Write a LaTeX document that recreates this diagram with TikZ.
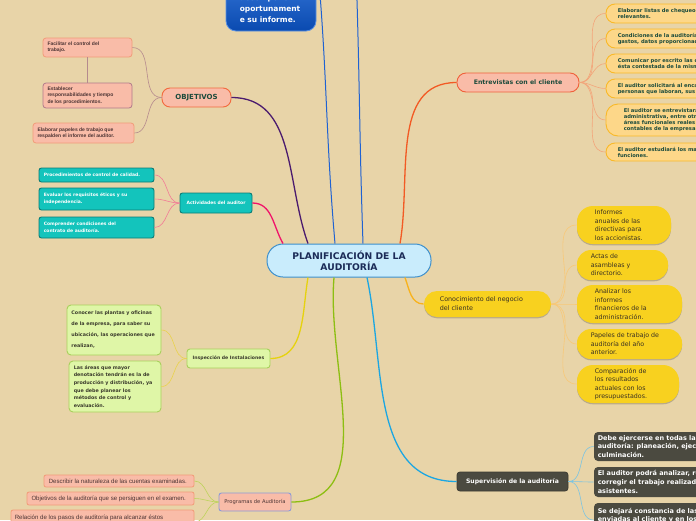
\documentclass[tikz,border=0pt]{standalone}
\usepackage{fontspec}
\setmainfont{DejaVu Sans}
\newfontfamily\arialf{Liberation Sans}
\usetikzlibrary{shadows}
\definecolor{bgc}{HTML}{E8D4A8}
\definecolor{ctrfill}{HTML}{C9ECFC}
\definecolor{ctrdraw}{HTML}{3D8FCC}
\definecolor{ctrtext}{HTML}{1B2B57}
\definecolor{salmon}{HTML}{F9BCA8}
\definecolor{objdraw}{HTML}{F26A3E}
\definecolor{darkgreen}{HTML}{1C4B3C}
\definecolor{salmondraw}{HTML}{F29B78}
\definecolor{mauve}{HTML}{B07A8A}
\definecolor{objline}{HTML}{B58A8E}
\definecolor{teal1}{HTML}{13C4BC}
\definecolor{teal2}{HTML}{0C7C75}
\definecolor{pinkline}{HTML}{F27A96}
\definecolor{limefill}{HTML}{DFF6A7}
\definecolor{limedraw}{HTML}{A8D05C}
\definecolor{yelline}{HTML}{E8D24C}
\definecolor{progdraw}{HTML}{8C9AD8}
\definecolor{greenline}{HTML}{BED35C}
\definecolor{entdraw}{HTML}{F0603A}
\definecolor{entkfill}{HTML}{FDD789}
\definecolor{entkdraw}{HTML}{F9B928}
\definecolor{entline}{HTML}{F3A57A}
\definecolor{gold}{HTML}{F8D11F}
\definecolor{goldline}{HTML}{F8C878}
\definecolor{supfill}{HTML}{4B4A40}
\definecolor{supline}{HTML}{7CC4E2}
\definecolor{purpleline}{HTML}{4B1B6E}
\definecolor{magline}{HTML}{F0146A}
\definecolor{blueline}{HTML}{1F62D2}
\definecolor{redline}{HTML}{F25A24}
\definecolor{amberline}{HTML}{F8B21C}
\definecolor{cyanline}{HTML}{1CA6E2}
\definecolor{yellowline}{HTML}{E6D20E}
\definecolor{limeline}{HTML}{8DBE12}
\definecolor{bluetop}{HTML}{2C6DD0}
\definecolor{bluebot}{HTML}{0A4AB0}
\definecolor{bluedraw}{HTML}{5C92E2}
\definecolor{inktext}{HTML}{3B3B2C}
\definecolor{browntext}{HTML}{4C3434}
\definecolor{goldtext}{HTML}{3A3122}
\tikzset{
  boxbase/.style={inner sep=0pt, line width=0.8pt},
  txt/.style={inner sep=0pt, align=left, anchor=west},
  mainline/.style={line width=1.3pt},
  subline/.style={line width=0.6pt},
  ctrbox/.style={boxbase, draw=ctrdraw, fill=ctrfill, line width=1pt, rounded corners=16pt,
    minimum width=164pt, minimum height=33pt, align=center, text=ctrtext,
    font=\bfseries\fontsize{9.2}{11}\selectfont},
  bluebox/.style={boxbase, draw=bluedraw, top color=bluetop, bottom color=bluebot, rounded corners=10pt},
  objbox/.style={boxbase, draw=objdraw, fill=salmon, line width=0.9pt, rounded corners=8pt,
    minimum width=69pt, minimum height=19pt, text=darkgreen, font=\bfseries\fontsize{7}{8}\selectfont},
  objkid/.style={boxbase, fill=salmon, rounded corners=3pt},
  objtxt/.style={txt, text=browntext, font=\arialf\bfseries\fontsize{5}{6.3}\selectfont},
  actbox/.style={boxbase, draw=teal2, fill=teal1, line width=0.9pt, rounded corners=2.5pt,
    minimum width=72pt, minimum height=20pt, text=white, font=\bfseries\fontsize{4.5}{5.5}\selectfont},
  actkid/.style={boxbase, draw=teal2, fill=teal1, line width=0.9pt, rounded corners=2.5pt, minimum width=115pt},
  acttxt/.style={txt, text=white, font=\bfseries\fontsize{4.5}{6.7}\selectfont},
  insbox/.style={boxbase, draw=limedraw, fill=limefill, line width=0.9pt, rounded corners=3pt,
    minimum width=83pt, minimum height=19pt, text=inktext, font=\bfseries\fontsize{4.6}{5.5}\selectfont},
  inskid/.style={boxbase, draw=limedraw, fill=limefill, line width=0.9pt, rounded corners=4pt},
  instxt/.style={txt, text=inktext, font=\bfseries\fontsize{4.8}{6}\selectfont},
  progbox/.style={boxbase, draw=progdraw, fill=salmon, line width=0.9pt, rounded corners=2.5pt,
    minimum width=72pt, minimum height=18pt, text=browntext, font=\fontsize{5.2}{6}\selectfont},
  progkid/.style={boxbase, draw=salmondraw, fill=salmon, rounded corners=2pt},
  progtxt/.style={txt, text=browntext, font=\arialf\fontsize{6.1}{8}\selectfont},
  entbox/.style={boxbase, draw=entdraw, fill=salmon, line width=0.9pt, rounded corners=9pt,
    minimum width=122pt, minimum height=19pt, text=darkgreen, font=\bfseries\fontsize{6.2}{7}\selectfont},
  entkid/.style={boxbase, draw=entkdraw, fill=entkfill, line width=0.9pt, rounded corners=9pt, minimum width=200pt},
  enttxt/.style={txt, text=darkgreen, font=\bfseries\fontsize{5.2}{6}\selectfont},
  conshadow/.style={drop shadow={shadow xshift=0pt, shadow yshift=-1.3pt, opacity=0.3, fill=black!70}},
  conbox/.style={boxbase, fill=gold, conshadow, rounded corners=13pt, minimum width=127pt, minimum height=26pt},
  conkid/.style={boxbase, fill=gold, conshadow, rounded corners=14pt},
  contxt/.style={txt, text=goldtext, font=\fontsize{6.4}{9}\selectfont},
  conktxt/.style={txt, text=goldtext, font=\fontsize{6.3}{8.5}\selectfont},
  supbox/.style={boxbase, draw=supfill!80!black, fill=supfill, rounded corners=3pt,
    minimum width=111pt, minimum height=19pt, text=white, font=\bfseries\fontsize{6.1}{7}\selectfont},
  supkid/.style={boxbase, fill=supfill, rounded corners=4pt, minimum width=166pt},
  suptxt/.style={txt, text=white, font=\bfseries\fontsize{6.5}{8.6}\selectfont},
}
\begin{document}
\begin{tikzpicture}[x=1pt,y=-1pt]
\fill[bgc] (0,0) rectangle (696,520);
\useasboundingbox (0,0) rectangle (696,520);

% central node
\node[ctrbox] (c) at (349,260.5) {PLANIFICACIÓN DE LA\\AUDITORÍA};

% top blue node
\node[bluebox, minimum width=90pt, minimum height=44pt] (top) at (271,9) {};
\node[txt, text=white, font=\bfseries\fontsize{7.5}{11}\selectfont] (topt) at ([xshift=14pt]top.west) {desempeñe\\oportunament\\e su informe.};
\coordinate (up1) at (318,-30);
\coordinate (up2) at (356,-30);

% OBJETIVOS
\node[objbox] (obj) at (196.5,97.5) {OBJETIVOS};
\node[objkid, draw=salmondraw, minimum width=89pt, minimum height=19pt] (o1) at (87.5,47.5) {};
\node[objtxt] (o1t) at ([xshift=4.7pt]o1.west) {Facilitar el control del\\trabajo.};
\node[objkid, draw=mauve, minimum width=89pt, minimum height=25pt] (o2) at (87.5,95.5) {};
\node[objtxt] (o2t) at ([xshift=4.7pt]o2.west) {Establecer\\responsabilidades y tiempo\\de los procedimientos.};
\node[objkid, draw=salmondraw, minimum width=101pt, minimum height=20pt] (o3) at (83.5,133) {};
\node[objtxt] (o3t) at ([xshift=4.7pt]o3.west) {Elaborar papeles de trabajo que\\respalden el informe del auditor.};

% Actividades
\node[actbox] (act) at (216,203) {Actividades del auditor};
\node[actkid, minimum height=14pt] (a1) at (96.5,175) {};
\node[acttxt] (a1t) at ([xshift=5pt]a1.west) {Procedimientos de control de calidad.};
\node[actkid, minimum height=22pt] (a2) at (96.5,199) {};
\node[acttxt] (a2t) at ([xshift=5pt]a2.west) {Evaluar los requisitos éticos y su\\independencia.};
\node[actkid, minimum height=21pt] (a3) at (96.5,227.5) {};
\node[acttxt] (a3t) at ([xshift=5pt]a3.west) {Comprender condiciones del\\contrato de auditoría.};

% Inspeccion
\node[insbox] (ins) at (228.5,358.5) {Inspección de Instalaciones};
\node[inskid, minimum width=94pt, minimum height=50pt] (i1) at (114,330) {};
\node[instxt, font=\bfseries\fontsize{4.8}{11}\selectfont] (i1t) at ([xshift=4.7pt]i1.west) {Conocer las plantas y oficinas\\de la empresa, para saber su\\ubicación, las operaciones que\\realizan,};
\node[inskid, minimum width=92pt, minimum height=51pt] (i2) at (115,386.5) {};
\node[instxt, font=\bfseries\fontsize{4.8}{7.6}\selectfont] (i2t) at ([xshift=5pt]i2.west) {Las áreas que mayor\\denotación tendrán es la de\\producción y distribución, ya\\que debe planear los\\métodos de control y\\evaluación.};

% Programas
\node[progbox] (prog) at (255,502) {Programas de Auditoría};
\node[progkid, minimum width=150pt, minimum height=12pt] (p1) at (119,481) {};
\node[progtxt] (p1t) at ([xshift=5pt]p1.west) {Describir la naturaleza de las cuentas examinadas.};
\node[progkid, minimum width=167pt, minimum height=13pt] (p2) at (110.5,498.5) {};
\node[progtxt] (p2t) at ([xshift=4.7pt]p2.west) {Objetivos de la auditoría que se persiguen en el examen.};
\node[progkid, minimum width=183pt, minimum height=24pt] (p3) at (102.5,522) {};
\node[progtxt] (p3t) at ([xshift=4pt]p3.west) {Relación de los pasos de auditoría para alcanzar éstos\\objetivos.};

% Entrevistas
\node[entbox] (ent) at (518,82.5) {Entrevistas con el cliente};
\node[entkid, minimum height=19pt] (e1) at (706,13.5) {};
\node[enttxt] (e1t) at ([xshift=12pt]e1.west) {Elaborar listas de chequeo de los aspectos\\relevantes.};
\node[entkid, minimum height=19pt] (e2) at (706,38.5) {};
\node[enttxt] (e2t) at ([xshift=12pt]e2.west) {Condiciones de la auditoría: honorarios,\\gastos, datos proporcionados.};
\node[entkid, minimum height=19pt] (e3) at (706,63.5) {};
\node[enttxt] (e3t) at ([xshift=12pt]e3.west) {Comunicar por escrito las condiciones y que\\ésta contestada de la misma forma.};
\node[entkid, minimum height=19pt] (e4) at (706,88.5) {};
\node[enttxt] (e4t) at ([xshift=12pt]e4.west) {El auditor solicitará al encargado una lista de\\personas que laboran, sus puestos.};
\node[entkid, minimum height=32pt, rounded corners=12pt] (e5) at (706,120) {};
\node[enttxt] (e5t) at ([xshift=18pt]e5.west) {El auditor se entrevistará con la dirección\\administrativa, entre otros, para conocer las\\áreas funcionales reales y los registros\\contables de la empresa.};
\node[entkid, minimum height=18pt] (e6) at (706,152) {};
\node[enttxt] (e6t) at ([xshift=12pt]e6.west) {El auditor estudiará los manuales de\\funciones.};

% Conocimiento
\node[conbox] (con) at (487.5,304) {};
\node[contxt] (cont) at ([xshift=16pt]con.west) {Conocimiento del negocio\\del cliente};
\node[conkid, minimum width=94pt, minimum height=38pt, rounded corners=16pt] (k1) at (624,225) {};
\node[conktxt] (k1t) at ([xshift=18pt]k1.west) {Informes\\anuales de las\\directivas para\\los accionistas.};
\node[conkid, minimum width=91pt, minimum height=30pt] (k2) at (622.5,265) {};
\node[conktxt] (k2t) at ([xshift=14pt]k2.west) {Actas de\\asambleas y\\directorio.};
\node[conkid, minimum width=105pt, minimum height=38pt, rounded corners=16pt] (k3) at (629.5,304) {};
\node[conktxt] (k3t) at ([xshift=18pt]k3.west) {Analizar los\\informes\\financieros de la\\administración.};
\node[conkid, minimum width=105pt, minimum height=30pt] (k4) at (629.5,344) {};
\node[conktxt] (k4t) at ([xshift=14pt]k4.west) {Papeles de trabajo de\\auditoría del año\\anterior.};
\node[conkid, minimum width=102pt, minimum height=38pt, rounded corners=16pt] (k5) at (628,384) {};
\node[conktxt] (k5t) at ([xshift=18pt]k5.west) {Comparación de\\los resultados\\actuales con los\\presupuestados.};

% Supervision
\node[supbox] (sup) at (512.5,481.5) {Supervisión de la auditoría};
\node[supkid, minimum height=29pt] (s1) at (677,446.5) {};
\node[suptxt] (s1t) at ([xshift=4pt]s1.west) {Debe ejercerse en todas las etapas de la\\auditoría: planeación, ejecución y\\culminación.};
\node[supkid, minimum height=30pt] (s2) at (677,482) {};
\node[suptxt] (s2t) at ([xshift=4pt]s2.west) {El auditor podrá analizar, revisar y\\corregir el trabajo realizado por sus\\asistentes.};
\node[supkid, minimum height=34pt] (s3) at (677,520) {};
\node[suptxt] (s3t) at ([xshift=4pt]s3.west) {Se dejará constancia de las revisiones\\enviadas al cliente y en los papeles\\de trabajo.};

% main connectors
\draw[mainline, purpleline] (obj.east) to[out=0,in=110] ([xshift=-41pt]c.north);
\draw[mainline, magline] (act.east) to[out=0,in=120] ([xshift=-66pt]c.north);
\draw[line width=1pt, blueline] ([xshift=-14pt]c.north) to[out=95,in=-85] (up1);
\draw[line width=1pt, blueline] ([xshift=14pt]c.north) to[out=92,in=-88] (up2);
\draw[mainline, redline] ([xshift=51pt]c.north) to[out=80,in=180] (ent.west);
\draw[mainline, amberline] ([xshift=56pt]c.south) to[out=-70,in=180] (con.west);
\draw[mainline, cyanline] ([xshift=18pt]c.south) to[out=-78,in=180] (sup.west);
\draw[mainline, yellowline] ([xshift=-41pt]c.south) to[out=-100,in=0] (ins.east);
\draw[mainline, limeline] ([xshift=-15pt]c.south) to[out=-95,in=0] (prog.east);

% sub connectors
\draw[subline, objline] (obj.west) to[out=180,in=0] (o1.east);
\draw[subline, objline] (obj.west) to[out=180,in=0] (o3.east);
\draw[line width=0.8pt, objline] (o1.south) -- (o2.north);
\foreach \k in {a1,a2,a3} \draw[subline, pinkline] (act.west) to[out=180,in=0] (\k.east);
\foreach \k in {i1,i2} \draw[subline, yelline] (ins.west) to[out=180,in=0] (\k.east);
\foreach \k in {p1,p2,p3} \draw[subline, greenline] (prog.west) to[out=180,in=0] (\k.east);
\foreach \k in {e1,e2,e3,e4,e5,e6} \draw[subline, entline] (ent.east) to[out=0,in=180] (\k.west);
\foreach \k in {k1,k2,k3,k4,k5} \draw[subline, goldline] (con.east) to[out=0,in=180] (\k.west);
\foreach \k in {s1,s2,s3} \draw[subline, supline] (sup.east) to[out=0,in=180] (\k.west);
\end{tikzpicture}
\end{document}
